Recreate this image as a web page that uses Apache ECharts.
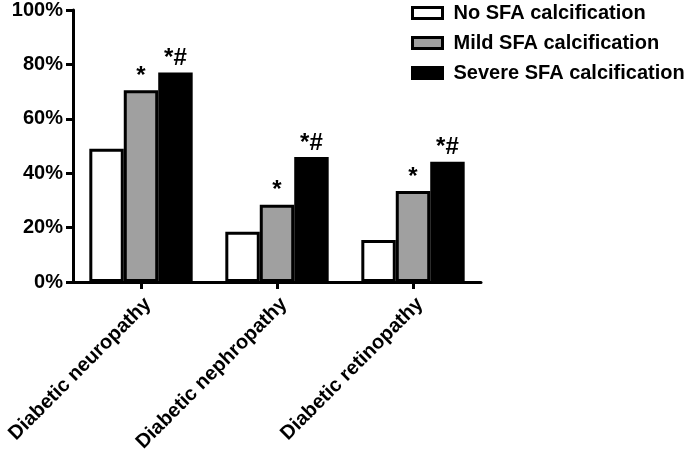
<!DOCTYPE html>
<html><head><meta charset="utf-8">
<script src="https://cdn.jsdelivr.net/npm/echarts@6/dist/echarts.min.js"></script>
<style>html,body{margin:0;padding:0;background:#fff}#c{width:685px;height:456px}</style>
</head><body><div id="c"></div>
<script>
const categories = ['Diabetic neuropathy', 'Diabetic nephropathy', 'Diabetic retinopathy'];
const seriesNames = ['No SFA calcification', 'Mild SFA calcification', 'Severe SFA calcification'];
const noSFA = [49, 18.5, 15.4];
const mildSFA = [70.5, 28.4, 33.5];
const severeSFA = [77, 46, 44.2];
const mildMarks = ['*', '*', '*'];
const severeMarks = ['*#', '*#', '*#'];
const yTicks = [0, 20, 40, 60, 80, 100];

const FONT = '"Liberation Sans", Arial, sans-serif';
const fills = ['#ffffff', '#a0a0a0', '#000000'];
const values = [noSFA, mildSFA, severeSFA];
const marks = [null, mildMarks, severeMarks];

const chart = echarts.init(document.getElementById('c'), null, {renderer: 'canvas'});
chart.setOption({
  animation: false,
  backgroundColor: '#fff',
  grid: {left: 73, right: 204, top: 10, bottom: 174, containLabel: false, outerBoundsMode: 'none'},
  legend: {
    orient: 'vertical', left: 406, top: -2, itemGap: 10,
    itemWidth: 30, itemHeight: 11,
    textStyle: {fontFamily: FONT, fontWeight: 'bold', fontSize: 20, color: '#000', padding: [0,0,0,6]},
    data: seriesNames.map((n, i) => ({name: n, icon: 'rect',
      itemStyle: {color: fills[i], borderColor: '#000', borderWidth: 3}}))
  },
  xAxis: {
    type: 'category', data: categories,
    axisLine: {lineStyle: {color: '#000', width: 3}},
    axisTick: {show: true, alignWithLabel: true, length: 7, lineStyle: {color: '#000', width: 3}},
    axisLabel: {rotate: 45, interval: 0, margin: 12, verticalAlign: 'top', fontFamily: FONT, fontWeight: 'bold', fontSize: 20, color: '#000'}
  },
  yAxis: {
    type: 'value', min: yTicks[0], max: yTicks[yTicks.length - 1], interval: 20,
    splitLine: {show: false},
    axisLine: {show: true, lineStyle: {color: '#000', width: 3}},
    axisTick: {show: true, length: 7, lineStyle: {color: '#000', width: 3}},
    axisLabel: {formatter: '{value}%', margin: 10, fontFamily: FONT, fontWeight: 'bold', fontSize: 20, color: '#000'}
  },
  series: seriesNames.map((n, i) => ({
    name: n, type: 'bar', data: values[i],
    barGap: '0%', barCategoryGap: '24%',
    itemStyle: {color: fills[i], borderColor: '#000', borderWidth: 3},
    label: marks[i] ? {
      show: true, position: 'top', distance: 2,
      formatter: p => marks[i][p.dataIndex],
      fontFamily: FONT, fontWeight: 'bold', fontSize: 24, color: '#000'
    } : {show: false}
  }))
});
</script></body></html>
